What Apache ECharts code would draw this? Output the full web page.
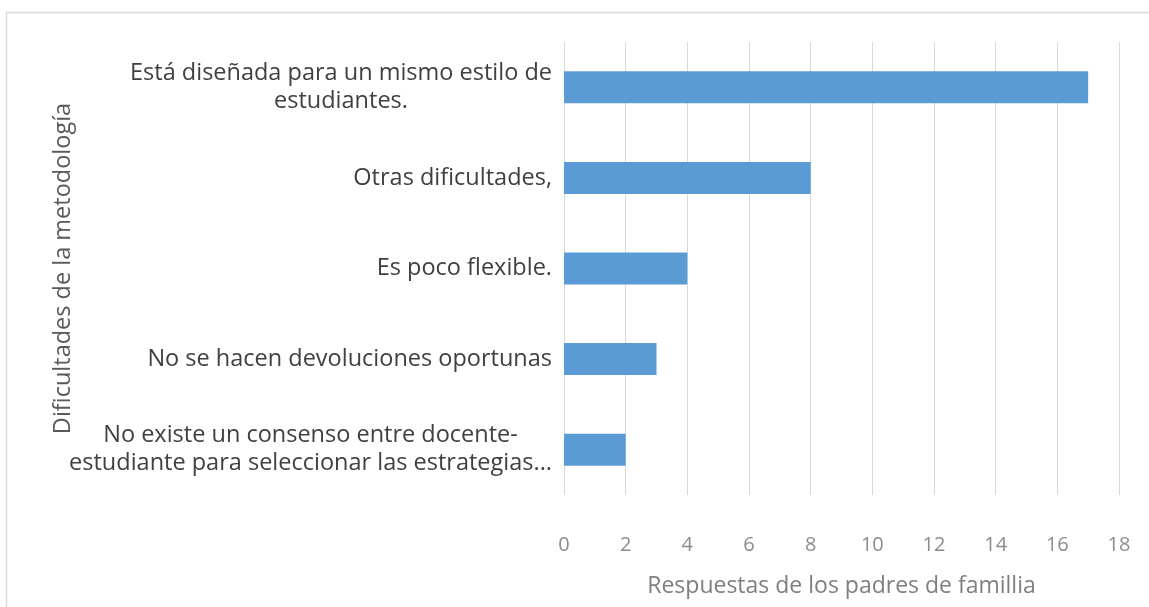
<!DOCTYPE html>
<html>
<head>
<meta charset="utf-8">
<script src="https://cdn.jsdelivr.net/npm/echarts@6/dist/echarts.min.js"></script>
<style>
  html, body { margin: 0; padding: 0; background: #fff; }
  #chart { width: 1149px; height: 607px; }
</style>
</head>
<body>
<div id="chart"></div>
<script>
// Categories listed bottom-to-top, as the category axis draws them
const categories = [
  'No existe un consenso entre docente-\nestudiante para seleccionar las estrategias...',
  'No se hacen devoluciones oportunas',
  'Es poco flexible.',
  'Otras dificultades,',
  'Está diseñada para un mismo estilo de\nestudiantes.'
];
const respuestas = [2, 3, 4, 8, 17];
const xTicks = { min: 0, max: 18, interval: 2 };
const xTitle = 'Respuestas de los padres de famillia';
const yTitle = 'Dificultades de la metodología';

const FONT = 'Open Sans';
const chart = echarts.init(document.getElementById('chart'), null, { renderer: 'canvas' });

chart.setOption({
  backgroundColor: '#ffffff',
  animation: false,
  graphic: [{
    type: 'rect',
    shape: { x: 6.5, y: 12.5, width: 1300, height: 800 },
    style: { fill: 'none', stroke: '#d9d9d9', lineWidth: 1.5 },
    silent: true
  }],
  grid: { left: 564, right: 30, top: 42, bottom: 112, containLabel: false },
  xAxis: {
    type: 'value',
    min: xTicks.min,
    max: xTicks.max,
    interval: xTicks.interval,
    name: xTitle,
    nameLocation: 'middle',
    nameGap: 80,
    nameTextStyle: { fontFamily: FONT, fontSize: 23, color: '#7f7f7f' },
    axisLine: { show: false },
    axisTick: { show: false },
    axisLabel: { margin: 40, fontFamily: FONT, fontSize: 20, color: '#8c8c8c' },
    splitLine: { show: true, lineStyle: { color: '#d9d9d9', width: 1 } }
  },
  yAxis: {
    type: 'category',
    data: categories,
    name: yTitle,
    nameLocation: 'middle',
    nameGap: 489,
    nameMoveOverlap: false,
    nameRotate: 90,
    nameTextStyle: { fontFamily: FONT, fontSize: 23.5, color: '#595959' },
    axisLine: { show: false },
    axisTick: { show: false },
    splitLine: { show: false },
    axisLabel: {
      margin: 12,
      align: 'right',
      lineHeight: 28,
      formatter: function (v) {
        return v.split('\n').map(function (l) { return '{c|' + l + '}'; }).join('\n');
      },
      rich: {
        c: { align: 'center', fontFamily: FONT, fontSize: 23.5, color: '#404040', lineHeight: 28 }
      }
    }
  },
  series: [{
    type: 'bar',
    data: respuestas,
    barWidth: 32,
    itemStyle: { color: '#5b9bd5' }
  }]
});
</script>
</body>
</html>
